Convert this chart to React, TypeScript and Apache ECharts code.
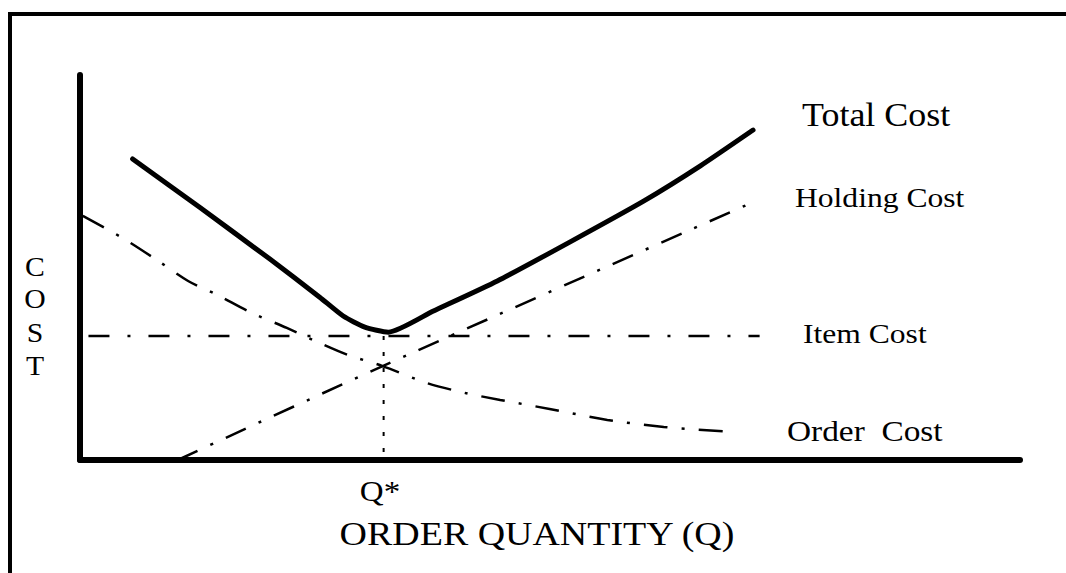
import React, { useEffect, useRef } from "react";
import * as echarts from "echarts";

// Data in chart units (x: 0-100 order quantity, y: 0-100 cost)
const totalCost: [number, number][] = [
  [5.6, 78.2], [12.8, 65.5], [20.2, 52.2], [25.5, 42.3], [28.0, 37.4], [30.3, 34.5],
  [32.8, 33.2], [37.6, 38.7], [44.4, 46.5], [52.1, 56.6], [60.0, 67.3], [66.0, 76.4], [71.6, 85.7],
];
const holdingCost: [number, number][] = [
  [10.4, 0], [32.2, 24.4], [72.1, 67.5],
];
const orderCost: [number, number][] = [
  [0.3, 63.4], [4.5, 57.7], [8.2, 51.9], [11.5, 46.5], [14.6, 42.9], [18.1, 38.4],
  [22.0, 34.3], [25.5, 30.4], [28.5, 27.3], [32.2, 24.4], [36.9, 20.0], [41.0, 17.4],
  [44.7, 15.6], [50.1, 13.2], [56.1, 10.4], [62.1, 8.6], [69.3, 7.3],
];
const itemCost: [number, number][] = [
  [0.9, 32.2], [72.3, 32.2],
];
const qStarLine: [number, number][] = [
  [32.3, 32.2], [32.3, 0],
];
const seriesLabels = ["Total Cost", "Holding Cost", "Item Cost", "Order  Cost"];
const yAxisLetters = ["C", "O", "S", "T"];
const xAxisTitle = "ORDER QUANTITY (Q)";
const qStarLabel = "Q*";

const FONT = "'Liberation Serif', 'Times New Roman', serif";

export default function App() {
  const ref = useRef<HTMLDivElement>(null);
  useEffect(() => {
    if (!ref.current) return;
    const chart = echarts.init(ref.current, undefined, { renderer: "svg" });
    const letterY = [267, 299, 333, 366];
    const txt = (text: string, x: number, y: number, size: number, sx: number, align = "left") => ({
      type: "text",
      x,
      y,
      scaleX: sx,
      style: {
        text,
        fontFamily: FONT,
        fontSize: size,
        fill: "#000",
        align,
        verticalAlign: "middle",
      },
    });
    chart.setOption({
      animation: false,
      backgroundColor: "#fff",
      grid: { left: 80, top: 75, right: 46, bottom: 113 },
      xAxis: {
        type: "value",
        min: 0,
        max: 100,
        axisLine: { show: true, lineStyle: { color: "#000", width: 6 } },
        axisTick: { show: false },
        axisLabel: { show: false },
        splitLine: { show: false },
      },
      yAxis: {
        type: "value",
        min: 0,
        max: 100,
        axisLine: { show: true, lineStyle: { color: "#000", width: 6 } },
        axisTick: { show: false },
        axisLabel: { show: false },
        splitLine: { show: false },
      },
      series: [
        {
          name: "Total Cost",
          type: "line",
          data: totalCost,
          symbol: "none",
          smooth: 0.2,
          lineStyle: { color: "#000", width: 5, cap: "round", join: "round" },
        },
        {
          name: "Holding Cost",
          type: "line",
          data: holdingCost,
          symbol: "none",
          smooth: 0.3,
          lineStyle: { color: "#000", width: 2.5, type: [22, 14, 3, 14] },
        },
        {
          name: "Order Cost",
          type: "line",
          data: orderCost,
          symbol: "none",
          smooth: 0.3,
          lineStyle: { color: "#000", width: 2.5, type: [24, 14, 3, 14] },
        },
        {
          name: "Item Cost",
          type: "line",
          data: itemCost,
          symbol: "none",
          lineStyle: { color: "#000", width: 2.5, type: [21, 18, 3, 18] },
        },
        {
          name: "Q*",
          type: "line",
          data: qStarLine,
          symbol: "none",
          lineStyle: { color: "#000", width: 2, type: [4, 12] },
        },
      ],
      graphic: [
        {
          type: "polyline",
          shape: { points: [[10, 573], [10, 14], [1066, 14]] },
          style: { stroke: "#000", lineWidth: 4, fill: "none" },
        },
        txt(seriesLabels[0], 802, 115, 33, 1.09),
        txt(seriesLabels[1], 795, 198, 27, 1.17),
        txt(seriesLabels[2], 803, 334, 27, 1.17),
        txt(seriesLabels[3], 787, 431, 29, 1.15),
        ...yAxisLetters.map((l, i) => txt(l, 35, letterY[i], 27, 1.1, "center")),
        txt(qStarLabel, 380, 491, 30, 1.1, "center"),
        txt(xAxisTitle, 537, 534, 33, 1.15, "center"),
      ],
    });
    return () => chart.dispose();
  }, []);
  return (
    <div
      ref={ref}
      style={{ position: "absolute", left: 0, top: 0, width: 1066, height: 573, background: "#fff" }}
    />
  );
}
